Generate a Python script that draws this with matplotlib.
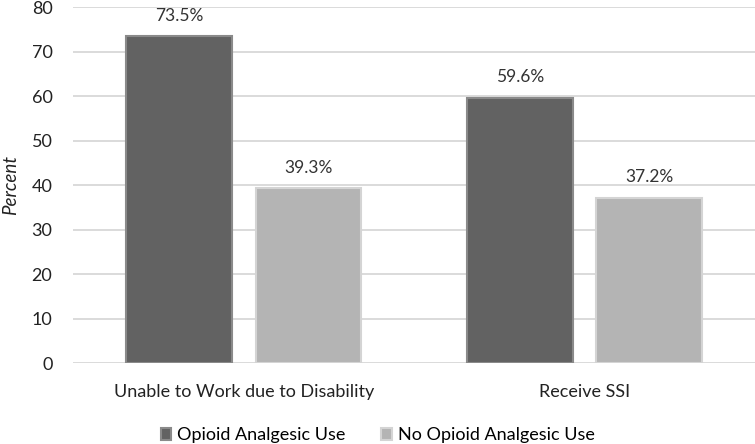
import matplotlib.pyplot as plt
import numpy as np

plt.rcParams['font.family'] = ['Lato', 'DejaVu Sans']

categories = ['Unable to Work due to Disability', 'Receive SSI']
opioid = [73.5, 59.6]
no_opioid = [39.3, 37.2]
series_names = ['Opioid Analgesic Use', 'No Opioid Analgesic Use']
colors = ['#626262', '#b4b4b4']
edges = ['#8a8a8a', '#d4d4d4']

fig = plt.figure(figsize=(7.55, 4.44), dpi=100)
ax = fig.add_axes([0.097, 0.182, 0.903, 0.802])

x = np.arange(len(categories))
w = 0.31
offs = [-0.19, 0.19]
for vals, off, c, e, name in zip([opioid, no_opioid], offs, colors, edges, series_names):
    bars = ax.bar(x + off, vals, w, color=c, edgecolor=e, linewidth=1.5, label=name, zorder=3)
    for b, v in zip(bars, vals):
        ax.annotate(f'{v}%', (b.get_x() + b.get_width() / 2, v), xytext=(0, 9),
                    textcoords='offset points', ha='center', va='bottom',
                    fontsize=12.5, color='#333333')

ax.set_xlim(-0.5, 1.5)
ax.set_ylim(0, 80)
ax.set_yticks(range(0, 81, 10))
ax.set_xticks(x)
ax.set_xticklabels(categories)
ax.grid(axis='y', color='#d4d4d4', linewidth=1.2, zorder=0)
for s in ax.spines.values():
    s.set_visible(False)
ax.tick_params(length=0, labelsize=13, colors='#222222', pad=15)
ax.tick_params(axis='x', pad=15)
ax.set_ylabel('Percent', style='italic', fontsize=13.5, labelpad=9, color='#222222')

fig.legend(loc='lower center', ncol=2, frameon=False, fontsize=13,
           bbox_to_anchor=(0.5, -0.035), handlelength=0.6, handleheight=0.6,
           handletextpad=0.3, columnspacing=2.0)

fig.savefig('out.png', dpi=100)
